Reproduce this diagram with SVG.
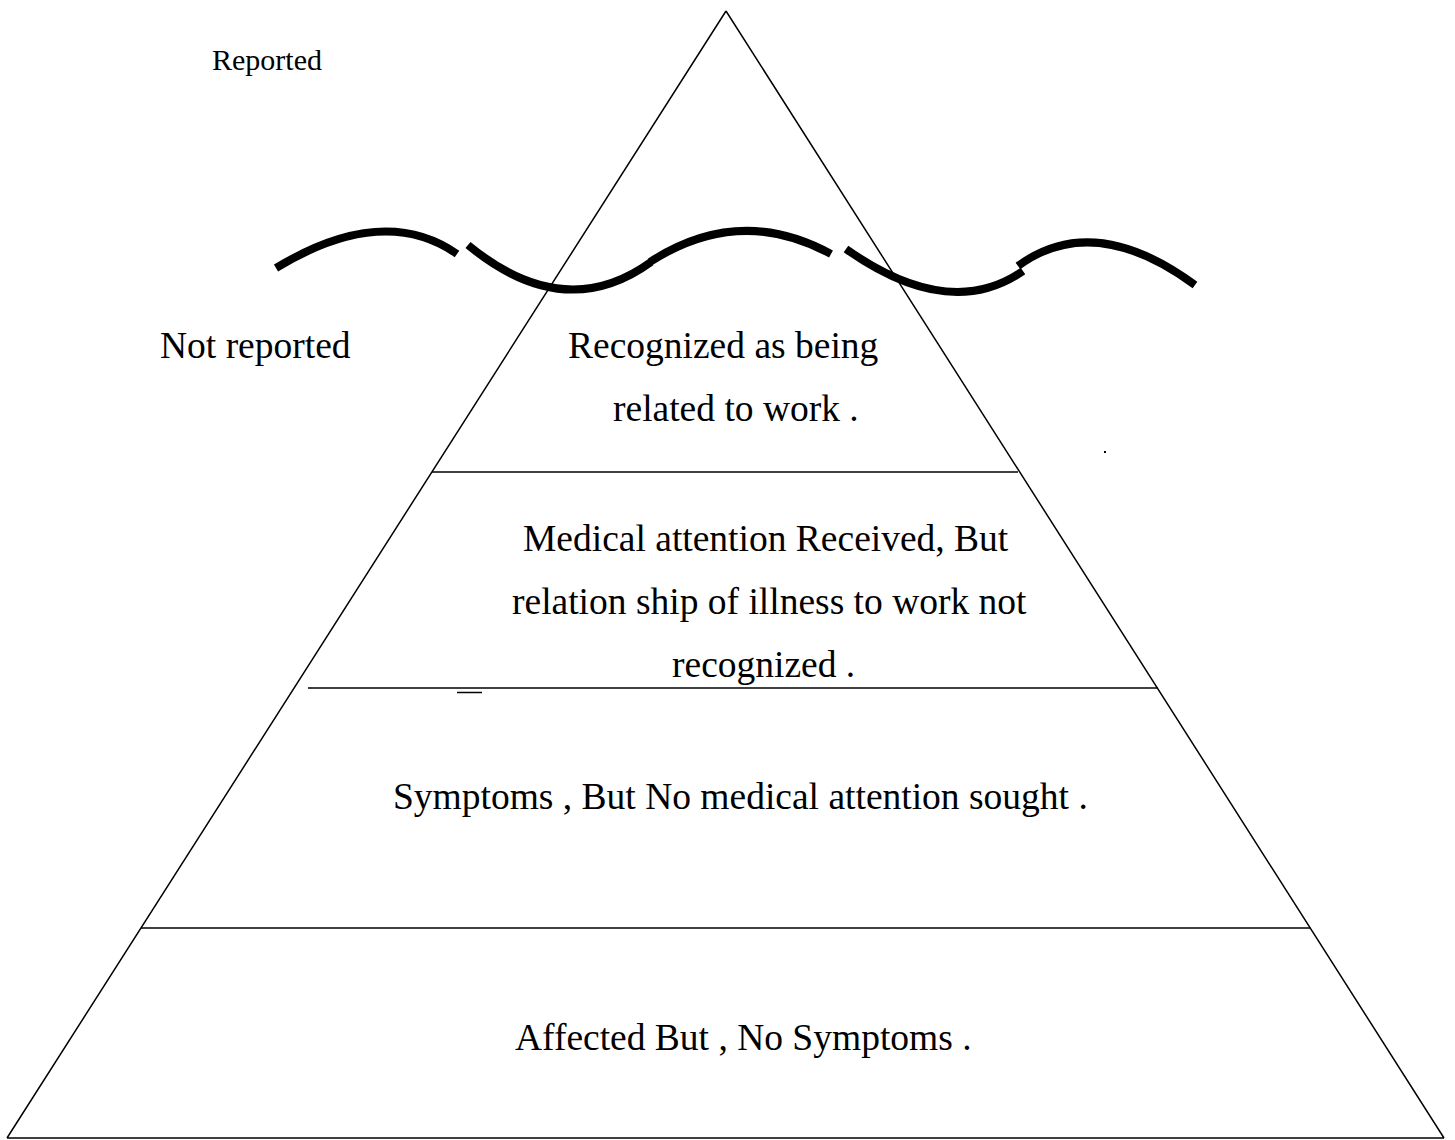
<svg xmlns="http://www.w3.org/2000/svg" width="1455" height="1140" viewBox="0 0 1455 1140">
<style>
.t{font-family:"Liberation Serif","Times New Roman",serif;font-size:37.5px;fill:#000}
.ln{stroke:#000;stroke-width:1.5;fill:none}
.wave{stroke:#000;stroke-width:8;fill:none;stroke-linecap:butt}
</style>
<rect width="1455" height="1140" fill="#fff"/>
<g id="connectors">
<path class="ln" d="M726,11 L7,1138 M726,11 L1444,1138 M7,1138 L1444,1138"/>
<path class="ln" d="M432,472 L1018,472"/>
<path class="ln" d="M308,688 L1158,688"/>
<path class="ln" d="M141,928 L1310,928"/>
<path class="ln" d="M457,692.5 L482,692.5"/>
<rect x="1104" y="451" width="2" height="2" fill="#000"/>
</g>
<g id="waterline">
<path class="wave" d="M276,268 Q383.5,203 457,254"/>
<path class="wave" d="M468,245 Q564.5,324.5 651,262"/>
<path class="wave" d="M650,262 Q739.5,204 831,254"/>
<path class="wave" d="M846,249 Q949.5,322 1023,271"/>
<path class="wave" d="M1018,266 Q1093.5,210.5 1195,285"/>
</g>
<g id="label-reported"><text class="t" x="212" y="70" style="font-size:30px">Reported</text></g>
<g id="label-not-reported"><text class="t" x="160" y="358">Not reported</text></g>
<g id="tier-1"><text class="t" x="568" y="358">Recognized as being</text><text class="t" x="613" y="421">related to work .</text></g>
<g id="tier-2"><text class="t" x="523" y="551">Medical attention Received, But</text><text class="t" x="512" y="614">relation ship of illness to work not</text><text class="t" x="672" y="677">recognized .</text></g>
<g id="tier-3"><text class="t" x="393" y="809">Symptoms , But No medical attention sought .</text></g>
<g id="tier-4"><text class="t" x="515" y="1050">Affected But , No Symptoms .</text></g>
</svg>
